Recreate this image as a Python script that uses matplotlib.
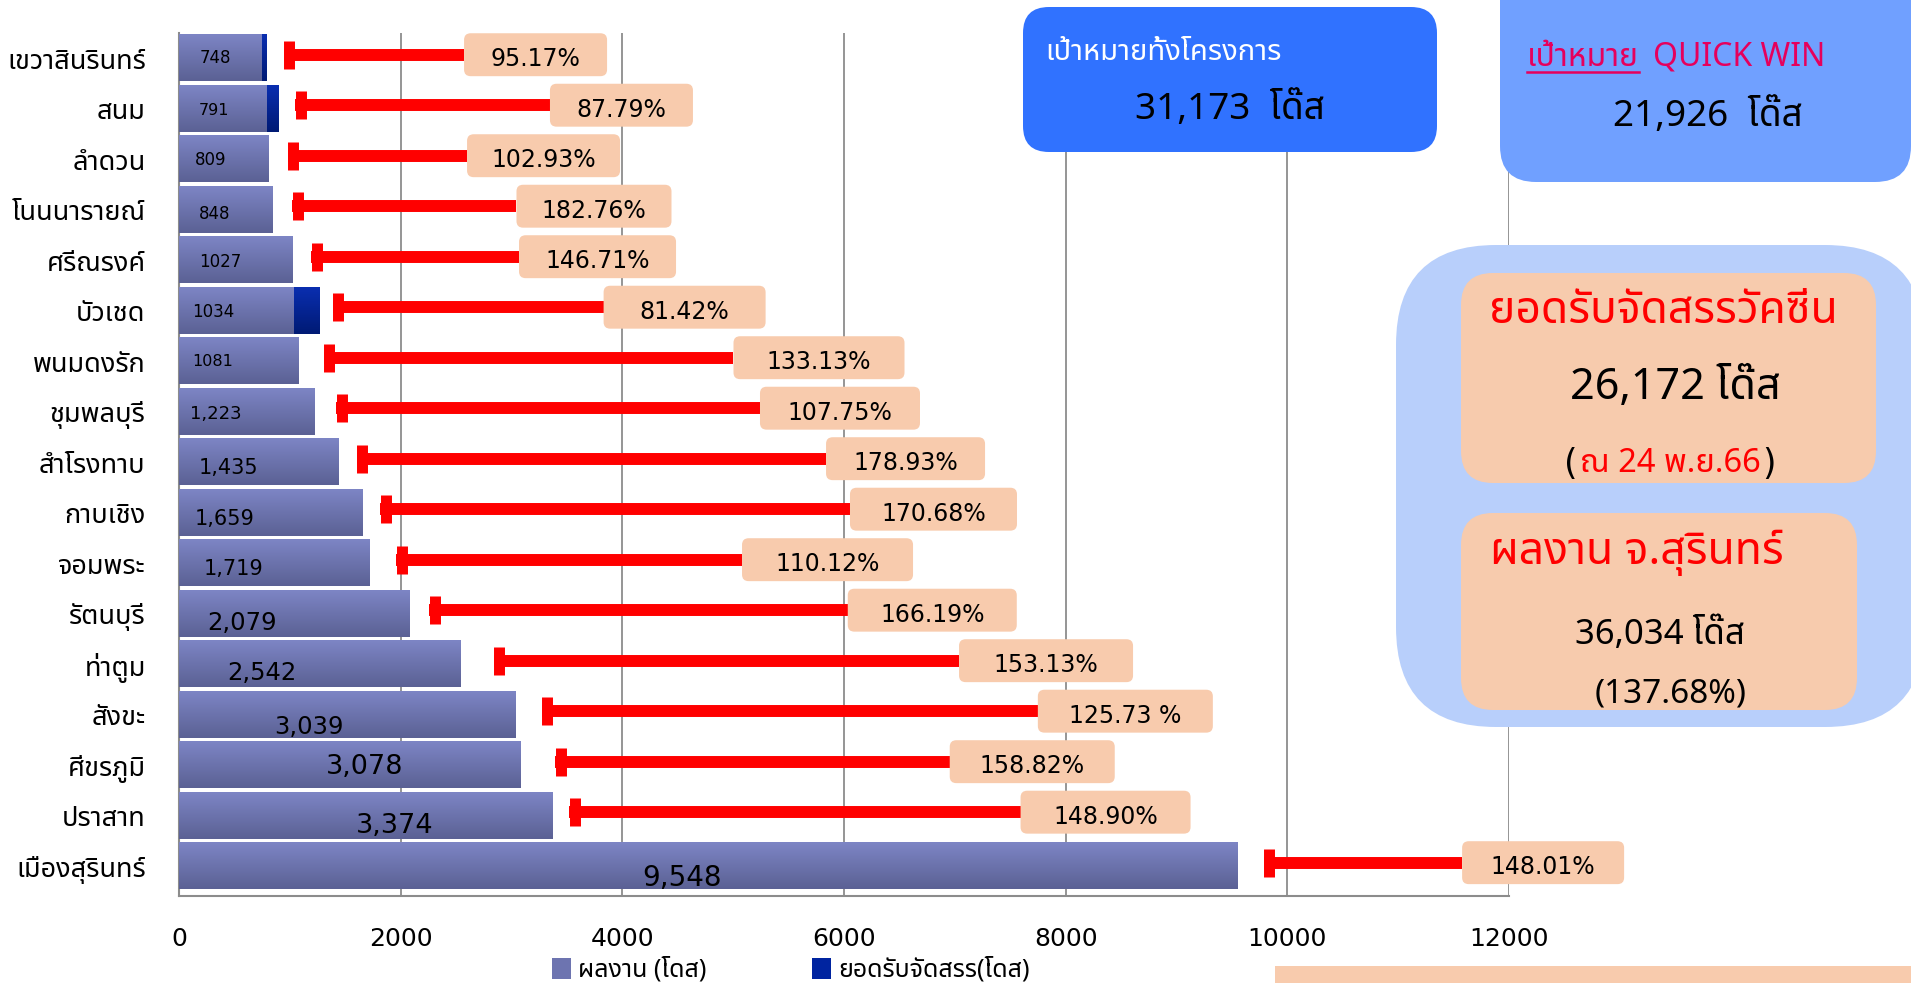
import numpy as np
import matplotlib
matplotlib.use('Agg')
import matplotlib.pyplot as plt
from matplotlib import font_manager
from matplotlib.ft2font import FT2Font
from matplotlib.patches import FancyBboxPatch, Patch, Rectangle
from matplotlib.colors import LinearSegmentedColormap

# ---- ข้อมูล ----
districts = ['เขวาสินรินทร์', 'สนม', 'ลำดวน', 'โนนนารายณ์', 'ศรีณรงค์', 'บัวเชด',
             'พนมดงรัก', 'ชุมพลบุรี', 'สำโรงทาบ', 'กาบเชิง', 'จอมพระ', 'รัตนบุรี',
             'ท่าตูม', 'สังขะ', 'ศีขรภูมิ', 'ปราสาท', 'เมืองสุรินทร์']
performance = [748, 791, 809, 848, 1027, 1034, 1081, 1223, 1435, 1659, 1719,
               2079, 2542, 3039, 3078, 3374, 9548]
allocated = [786, 901, 786, 464, 700, 1270, 812, 1135, 802, 972, 1561,
             1251, 1660, 2417, 1938, 2266, 6451]
perf_labels = ['748', '791', '809', '848', '1027', '1034', '1081', '1,223', '1,435',
               '1,659', '1,719', '2,079', '2,542', '3,039', '3,078', '3,374', '9,548']
pct_labels = ['95.17%', '87.79%', '102.93%', '182.76%', '146.71%', '81.42%', '133.13%',
              '107.75%', '178.93%', '170.68%', '110.12%', '166.19%', '153.13%',
              '125.73 %', '158.82%', '148.90%', '148.01%']
# เส้นสีแดง: จุดเริ่ม (ขีดตั้ง) และจุดสิ้นสุด (กล่อง %) บนแกน x
line_start = [943, 1051, 983, 1020, 1191, 1386, 1306, 1417, 1606, 1814, 1958,
              2256, 2840, 3272, 3393, 3519, 9785]
line_end = [2572, 3347, 2599, 3045, 3068, 3831, 5003, 5242, 5838, 6054, 5080,
            6034, 7038, 7749, 6954, 7593, 11577]
xticks = [0, 2000, 4000, 6000, 8000, 10000, 12000]

# ตำแหน่ง/ขนาดป้ายตัวเลขในแท่ง และความกว้างกล่อง % (พิกเซล)
label_x = [325, 314, 288, 325, 369, 312, 302, 329, 449, 413, 490, 566, 749, 1175, 1671, 1949, 4541]
label_dy = [0, 0.04, 0.02, 0.09, 0.04, 0.02, 0, 0.05, 0.12, 0.13, 0.12, 0.18, 0.18, 0.25, 0.04, 0.2, 0.24]
label_size = [12, 11.5, 12, 12, 12, 12, 11.5, 13, 15, 15, 15, 17.5, 17.5, 17.5, 19.5, 19.5, 20]
box_px = [143, 143, 153, 155, 157, 162, 171, 160, 159, 167, 171, 169, 174, 175, 165, 170, 162]


# หาฟอนต์ที่มีอักษรไทย
def thai_family():
    preferred = ['Tahoma', 'Noto Sans Thai', 'Noto Sans Thai UI', 'Loma', 'Garuda',
                 'Sarabun', 'Waree', 'Umpush', 'Norasi', 'Kinnari']
    found = []
    for f in font_manager.fontManager.ttflist:
        try:
            cmap = FT2Font(f.fname).get_charmap()
        except Exception:
            continue
        if 0x0E01 in cmap and 0x0E42 in cmap:
            found.append(f.name)
    for p in preferred:
        if p in found:
            return p
    return found[0] if found else 'DejaVu Sans'


THAI = thai_family()
plt.rcParams['font.family'] = [THAI, 'DejaVu Sans']
MIXED = [THAI, 'DejaVu Sans']
NUM = 'DejaVu Sans'

W, H = 1911, 983
fig = plt.figure(figsize=(W / 100, H / 100), dpi=100)
ax = fig.add_axes([179 / W, 1 - 896 / H, (1509 - 179) / W, (896 - 33) / H])

n = len(districts)
ypos = np.arange(n)
bar_h = 0.92

perf_cmap = LinearSegmentedColormap.from_list('perf', ['#7d85c5', '#5b6194'])
alloc_cmap = LinearSegmentedColormap.from_list('alloc', ['#0a2eb0', '#001a74'])
grad = np.linspace(0, 1, 64).reshape(-1, 1)

# แท่งยอดจัดสรร (ข้างหลัง) และแท่งผลงาน (ข้างหน้า)
alloc_bars = ax.barh(ypos, allocated, height=bar_h, color='none', zorder=2)
perf_bars = ax.barh(ypos, performance, height=bar_h, color='none', zorder=3)
for bars, cm, z in [(alloc_bars, alloc_cmap, 2), (perf_bars, perf_cmap, 3)]:
    for p in bars:
        x0, y0 = p.get_x(), p.get_y()
        ax.imshow(grad, cmap=cm, aspect='auto', zorder=z, interpolation='bilinear',
                  extent=(x0, x0 + p.get_width(), y0 + p.get_height(), y0))

for i in range(n):
    ax.text(label_x[i], ypos[i] + label_dy[i], perf_labels[i], ha='center', va='center',
            fontsize=label_size[i], family=NUM, color='black', zorder=4)

# เส้นสีแดง + กล่องเปอร์เซ็นต์
px = 12000 / (1509 - 179)     # หน่วย x ต่อ 1 พิกเซล
for i in range(n):
    y = ypos[i] - 0.07
    bw = box_px[i] * px
    ax.plot([line_start[i], line_end[i]], [y, y], color='#ff0000', lw=8.6,
            solid_capstyle='butt', zorder=5, clip_on=False)
    ax.plot(line_start[i] + 5.5 * px, y, marker='|', ms=19.5, mew=7.9,
            color='#ff0000', zorder=5, clip_on=False)
    ax.add_patch(FancyBboxPatch((line_end[i], y - 0.425), bw, 0.85,
                                boxstyle='round,pad=0,rounding_size=60',
                                mutation_aspect=0.13 / 60, fc='#f8cbad', ec='none',
                                zorder=6, clip_on=False))
    ax.text(line_end[i] + bw / 2, ypos[i] + 0.02, pct_labels[i], ha='center', va='center',
            fontsize=17, family=NUM, color='black', zorder=7, clip_on=False)

ax.set_xlim(0, 12000)
ax.set_ylim(n - 1 + 0.59, -0.5)
ax.set_xticks(xticks)
ax.set_xticklabels([str(v) for v in xticks])
ax.set_yticks(ypos)
ax.set_yticklabels(districts)
ax.tick_params(axis='x', length=0, pad=22, labelsize=18)
ax.tick_params(axis='y', length=0, pad=24, labelsize=19.5)
for lab in ax.get_xticklabels():
    lab.set_family(NUM)
ax.grid(axis='x', color='#8c8c8c', lw=1.3)
ax.set_axisbelow(True)
for s in ['top', 'right']:
    ax.spines[s].set_visible(False)
for s in ['left', 'bottom']:
    ax.spines[s].set_color('#8c8c8c')
    ax.spines[s].set_linewidth(1.5)

# คำอธิบายสัญลักษณ์
fig.legend(handles=[Patch(facecolor='#6d74b0', label='ผลงาน (โดส)'),
                    Patch(facecolor='#0024a0', label='ยอดรับจัดสรร(โดส)')],
           loc='center left', bbox_to_anchor=(556 / W - 0.002, 1 - 970 / H), ncol=2,
           frameon=False, prop={'family': MIXED, 'size': 18}, handlelength=0.75,
           handleheight=0.9, handletextpad=0.3, columnspacing=4.2,
           borderpad=0, borderaxespad=0)

# ---- ชั้นบน: กล่องข้อความ (พิกัดพิกเซล) ----
ov = fig.add_axes([0, 0, 1, 1])
ov.set_xlim(0, W)
ov.set_ylim(H, 0)
ov.axis('off')
ov.set_zorder(10)


def rbox(x0, y0, x1, y1, r, color):
    ov.add_patch(FancyBboxPatch((x0, y0), x1 - x0, y1 - y0,
                                boxstyle=f'round,pad=0,rounding_size={r}',
                                fc=color, ec='none'))


# เป้าหมายทั้งโครงการ
rbox(1023, 7, 1437, 152, 26, '#3072ff')
ov.text(1045, 53, 'เป้าหมายทั้งโครงการ', ha='left', va='center', fontsize=21,
        color='white', family=MIXED)
ov.text(1230, 110, '31,173  โด๊ส', ha='center', va='center', fontsize=26.5,
        color='black', family=MIXED)

# เป้าหมาย QUICK WIN
rbox(1500, -40, 1911, 182, 36, '#70a0ff')
pink = '#e6005c'
t1 = ov.text(1527, 57, 'เป้าหมาย', ha='left', va='center', fontsize=23,
             color=pink, family=MIXED)
fig.canvas.draw()
bb = t1.get_window_extent().transformed(ov.transData.inverted())
ov.plot([bb.x0, bb.x1], [72, 72], color=pink, lw=1.8)
ov.text(bb.x1 + 14, 57, 'QUICK WIN', ha='left', va='center', fontsize=23,
        color=pink, family=MIXED)
ov.text(1708, 117, '21,926  โด๊ส', ha='center', va='center', fontsize=26.5,
        color='black', family=MIXED)

# กล่องใหญ่ด้านขวา
rbox(1396, 245, 1925, 727, 100, '#b8cffb')
rbox(1461, 273, 1876, 483, 32, '#f7cbad')
ov.text(1663, 312, 'ยอดรับจัดสรรวัคซีน', ha='center', va='center', fontsize=32,
        fontweight='bold', color='#ff0000', family=MIXED)
ov.text(1675, 388, '26,172 โด๊ส', ha='center', va='center', fontsize=31,
        color='black', family=MIXED)
tm = ov.text(1670, 464, 'ณ 24 พ.ย.66', ha='center', va='center', fontsize=23.5,
             color='#ff0000', family=MIXED)
fig.canvas.draw()
bb = tm.get_window_extent().transformed(ov.transData.inverted())
ov.text(bb.x0 - 2, 464, '(', ha='right', va='center', fontsize=25, color='black', family=NUM)
ov.text(bb.x1 + 2, 464, ')', ha='left', va='center', fontsize=25, color='black', family=NUM)

rbox(1461, 513, 1857, 710, 32, '#f7cbad')
ov.text(1490, 553, 'ผลงาน จ.สุรินทร์', ha='left', va='center', fontsize=32,
        fontweight='bold', color='#ff0000', family=MIXED)
ov.text(1660, 635, '36,034 โด๊ส', ha='center', va='center', fontsize=25,
        color='black', family=MIXED)
ov.text(1671, 694, '(137.68%)', ha='center', va='center', fontsize=24,
        color='black', family=MIXED)

# กล่องด้านล่างขวา (ถูกตัดขอบ)
ov.add_patch(Rectangle((1275, 966), 700, 40, fc='#f8cbad', ec='none'))

fig.savefig('out.png', dpi=100)
